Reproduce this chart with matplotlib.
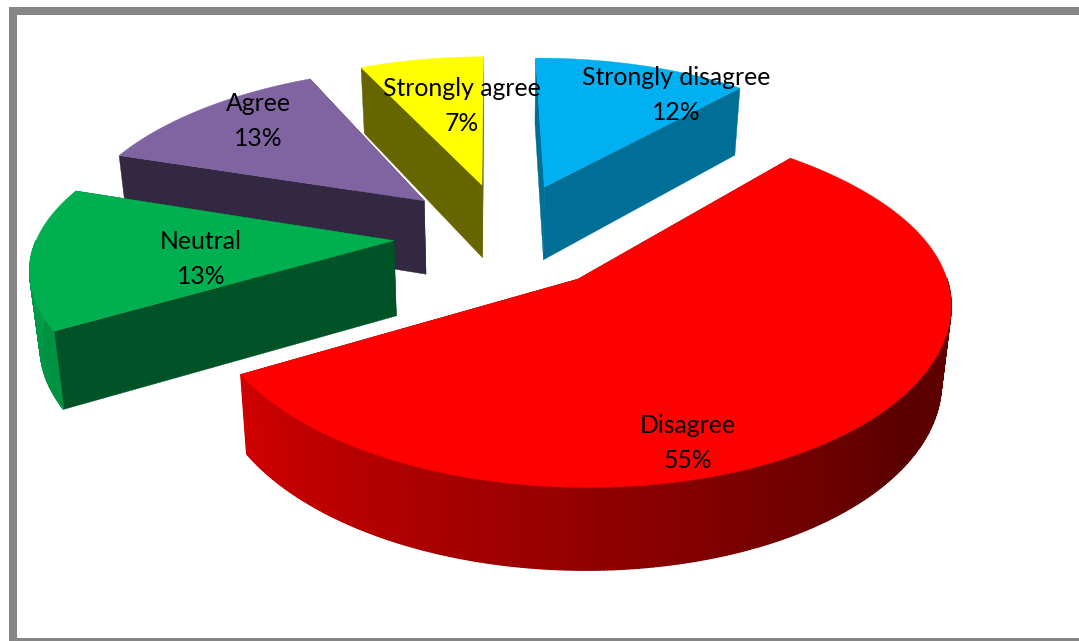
import numpy as np
import matplotlib.pyplot as plt
from matplotlib.colors import to_rgb
from matplotlib.patches import Polygon, Rectangle

# data, clockwise from 12 o'clock ------------------------------------------
labels = ["Strongly disagree", "Disagree", "Neutral", "Agree", "Strongly agree"]
shares = [12, 55, 13, 13, 7]

# style ----------------------------------------------------------------------
top_colors = ["#00B0F0", "#FF0000", "#00B050", "#8064A2", "#FFFF00"]
wall_shade = [0.63, 0.40, 0.47, 0.40, 0.40]
label_xy = [(676, 95), (688, 443), (201, 259), (258, 121), (462, 106)]
frame_color = "#868686"

# fake 3d projection, in pixels of the picture
CX, CY = 506, 235
RX, RY = 356, 172
EXPLODE = 0.315
DEPTH = 75
LEAN = 0.022
START = -0.5


def project(x, y, z=0.0):
    """x to the right, y towards viewer, z downwards (0 top face, 1 bottom)."""
    k = 0.16 - 0.04 * np.tanh(y / 0.5)  # back of the pie shrinks faster
    s = 1.0 / (1.0 - k * y)
    sx = CX + RX * x * s
    sy = CY + RY * y * s + DEPTH * z * s ** 0.6
    sx = CX + (sx - CX) * (1 - LEAN * z)
    return np.column_stack([sx, sy])


def arc_shade(theta):
    return np.interp(theta, [90, 125, 241, 270], [0.40, 0.35, 0.82, 0.90])


fig = plt.figure(figsize=(10.79, 6.41), dpi=100)
ax = fig.add_axes([0, 0, 1, 1])
ax.set_xlim(0, 1079)
ax.set_ylim(641, 0)
ax.axis("off")

# frame, open on the right
ax.add_patch(Rectangle((9, 7), 1070, 8, color=frame_color, lw=0))
ax.add_patch(Rectangle((9, 7), 8, 634, color=frame_color, lw=0))
ax.add_patch(Rectangle((9, 638), 1070, 3, color=frame_color, lw=0))

edges = np.cumsum([0] + shares) / sum(shares) * 360 + START
slices = []
for i in range(len(shares)):
    t0, t1 = edges[i], edges[i + 1]
    mid = np.radians((t0 + t1) / 2)
    ox, oy = EXPLODE * np.sin(mid), -EXPLODE * np.cos(mid)
    slices.append((oy, i, t0, t1, ox))

# back slices first
for oy, i, t0, t1, ox in sorted(slices):
    rgb = np.array(to_rgb(top_colors[i]))
    thetas = np.linspace(t0, t1, max(int(t1 - t0) * 2, 8))
    rad = np.radians(thetas)
    ax_x = ox + np.sin(rad)
    ax_y = oy - np.cos(rad)
    cx_, cy_ = np.array([ox]), np.array([oy])

    # cut faces
    for j in (0, -1):
        px = np.array([ox, ax_x[j]])
        py = np.array([oy, ax_y[j]])
        up = project(px, py, 0)
        lo = project(px, py, 1)
        ax.add_patch(Polygon(np.vstack([up, lo[::-1]]), fc=rgb * wall_shade[i],
                             ec=rgb * wall_shade[i], lw=0.3, zorder=2 + oy))

    # outer wall, small quads so the shading runs along it, front part only
    up = project(ax_x, ax_y, 0)
    lo = project(ax_x, ax_y, 1)
    for k in range(len(thetas) - 1):
        mid_t = (thetas[k] + thetas[k + 1]) / 2
        if np.cos(np.radians(mid_t)) > 0:
            continue
        col = rgb * arc_shade(mid_t)
        quad = np.vstack([up[k:k + 2], lo[k:k + 2][::-1]])
        ax.add_patch(Polygon(quad, fc=col, ec=col, lw=1.0, zorder=2 + oy))

    # top face
    top = np.vstack([project(cx_, cy_, 0), up])
    ax.add_patch(Polygon(top, fc=rgb, ec=rgb, lw=0.3, zorder=2 + oy))

for name, share, (lx, ly) in zip(labels, shares, label_xy):
    ax.text(lx, ly, f"{name}\n{share}%", ha="center", va="center", fontsize=17.8,
            family=["Lato", "DejaVu Sans"], color="black", linespacing=1.6, zorder=10)

fig.savefig("out.png", dpi=100)
